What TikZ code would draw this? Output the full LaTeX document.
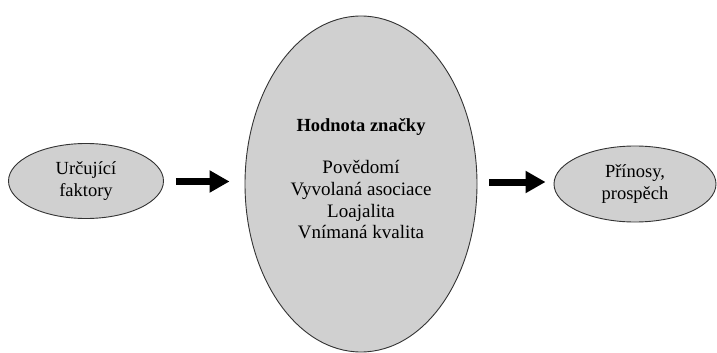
\documentclass[tikz,border=0pt]{standalone}
\usepackage{fontspec}
\setmainfont{Liberation Serif}
\usetikzlibrary{shapes.geometric,arrows.meta}
\definecolor{ellfill}{HTML}{D0D0D0}
\definecolor{ellline}{HTML}{333333}
\begin{document}
\begin{tikzpicture}[x=1pt,y=-1pt,
  ell/.style={ellipse,draw=ellline,fill=ellfill,line width=0.9pt,inner sep=0pt,align=center,font=\fontsize{18.5}{22}\selectfont},
  bigarrow/.style={line width=7pt,-{Triangle[length=20pt,width=21pt]}}]
\useasboundingbox (0,0) rectangle (717,353);
\node[ell,minimum width=155pt,minimum height=75pt] (left) at (86,181) {Určující\\faktory};
\node[ell,minimum width=232pt,minimum height=336pt] (mid) at (361,184) {};
\node[ell,minimum width=162pt,minimum height=76pt] (right) at (635,184) {Přínosy,\\prospěch};
\node[font=\fontsize{18.5}{22}\selectfont\bfseries] (title) at (361,127) {Hodnota značky};
\node[align=center,font=\fontsize{19}{21.7}\selectfont,anchor=north] (items) at (361,157) {Povědomí\\Vyvolaná asociace\\Loajalita\\Vnímaná kvalita};
\draw[bigarrow,shorten <=12pt,shorten >=15pt] (left.east |- 0,181.5) -- (mid.west |- 0,181.5);
\draw[bigarrow,shorten <=12pt,shorten >=8pt] (mid.east |- 0,182) -- (right.west |- 0,182);
\end{tikzpicture}
\end{document}
